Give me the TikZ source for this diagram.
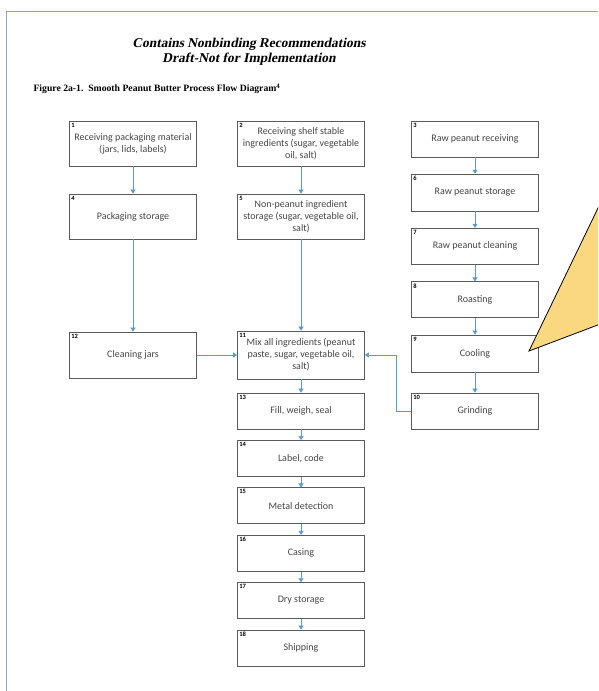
\documentclass[tikz,border=0pt]{standalone}
\usepackage{fontspec}
\setmainfont{Liberation Serif}
\newfontfamily\boxfont{Carlito}
\newfontfamily\headfont{Liberation Serif}[FakeSlant=0.2]
\usetikzlibrary{arrows.meta,calc}

\definecolor{flowblue}{RGB}{91,155,213}
\definecolor{boxline}{RGB}{90,90,90}
\definecolor{boxtext}{RGB}{70,70,70}
\definecolor{pageline}{RGB}{150,158,205}
\definecolor{callout}{RGB}{250,216,128}

\begin{document}
\begin{tikzpicture}[x=1pt,y=-1pt,
    box/.style={rectangle,draw=boxline,line width=0.7pt,minimum width=127pt,inner sep=1pt,
        align=center,text=boxtext,font=\boxfont\fontsize{10}{12}\selectfont},
    num/.style={anchor=north west,inner sep=2pt,font=\boxfont\bfseries\fontsize{6.5}{7}\selectfont},
    arrow/.style={draw=flowblue,line width=0.6pt,-{Triangle[width=5pt,length=4pt]}}
]

\useasboundingbox (0,0) rectangle (598,691);

% Page frame
\draw[pageline,line width=1.2pt] (6.5,691) -- (6.5,11.5) -- (598,11.5);

% Headings
\node[font=\headfont\bfseries\fontsize{13.5}{15}\selectfont,align=center] (head) at (249,52)
    {Contains Nonbinding Recommendations\\Draft-Not for Implementation};
\node[anchor=west,font=\bfseries\fontsize{9.7}{12}\selectfont] (caption) at (30,89)
    {Figure 2a-1.\ \ Smooth Peanut Butter Process Flow Diagram\textsuperscript{4}};

% Process steps: number / x / y / height / text
\foreach \i/\x/\y/\h/\t in {
    {1/133/143.5/45/Receiving packaging material\\(jars, lids, labels)},
    {2/301/143.5/45/Receiving shelf stable\\ingredients (sugar, vegetable\\oil, salt)},
    {3/475/139/36/Raw peanut receiving},
    {4/133/216.5/45/Packaging storage},
    {5/301/216.5/45/Non-peanut ingredient\\storage (sugar, vegetable oil,\\salt)},
    {6/475/192.6/37/Raw peanut storage},
    {7/475/246.2/36/Raw peanut cleaning},
    {8/475/299.8/36/Roasting},
    {9/475/353.4/37/Cooling},
    {10/475/411/36/Grinding},
    {11/301/355/48/Mix all ingredients (peanut\\paste, sugar, vegetable oil,\\salt)},
    {12/133/355/46/Cleaning jars}} {
    \node[box,minimum height=\h pt] (b\i) at (\x,\y) {\t};
    \node[num] at (b\i.north west) {\i};
}

% Packing line below the mixer
\foreach \i/\t [count=\k from 0] in {13/{Fill, weigh, seal},14/{Label, code},15/Metal detection,
    16/Casing,17/Dry storage,18/Shipping} {
    \node[box,minimum height=36pt] (b\i) at (301,411+\k*47.4) {\t};
    \node[num] at (b\i.north west) {\i};
}

% Straight connections
\foreach \a/\b in {1/4,2/5,3/6,6/7,7/8,8/9,9/10,4/12,5/11,12/11,11/13,13/14,14/15,15/16,16/17,17/18}
    \draw[arrow] (b\a) -- (b\b);

% Grinding back to mixing
\draw[arrow] (b10.west) -- ++(-15,0) |- (b11.east);

% Callout
\begin{scope}
    \clip (0,0) rectangle (598,691);
    \filldraw[fill=callout,draw=black,line width=0.8pt] (529,351) -- (640,121) -- (640,309) -- cycle;
\end{scope}

\end{tikzpicture}
\end{document}
